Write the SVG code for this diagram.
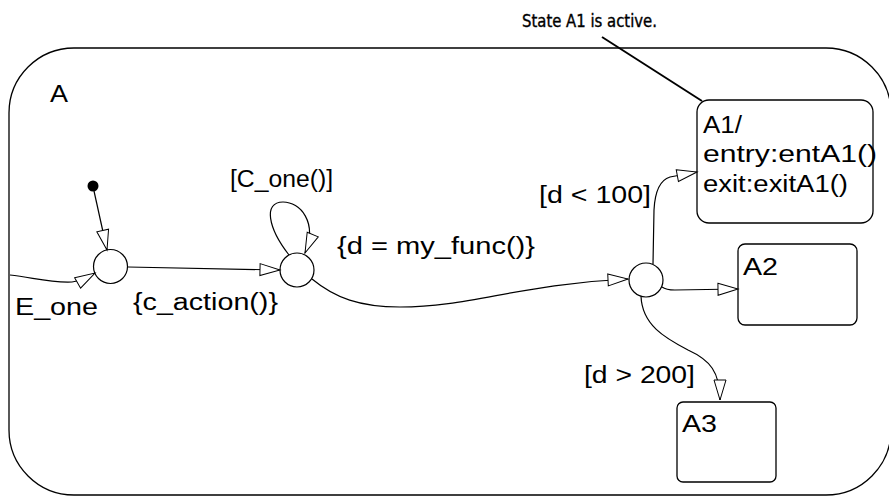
<svg xmlns="http://www.w3.org/2000/svg" width="889" height="497" viewBox="0 0 889 497">
<style>
  .st { fill: #fff; stroke: #000; stroke-width: 1.3; }
  .jn { fill: #fff; stroke: #000; stroke-width: 1.2; }
  .lbl { font-family: "Liberation Sans", Arial, Helvetica, sans-serif; font-size: 23px; fill: #000; }
  .note { font-family: "DejaVu Sans Condensed", "Liberation Sans Narrow", "Liberation Sans", sans-serif; font-size: 17px; fill: #000; stroke: #000; stroke-width: 0.35; }
  .tr { fill: none; stroke: #000; stroke-width: 1.2; marker-end: url(#arr); }
</style>
<defs>
  <marker id="arr" markerUnits="userSpaceOnUse" markerWidth="24" markerHeight="16" viewBox="0 0 24 16" refX="22" refY="8" orient="auto">
    <path d="M2,2 L22,8 L2,14 z" fill="#fff" stroke="#000" stroke-width="1"/>
  </marker>
</defs>
<rect width="889" height="497" fill="#fff"/>

<g id="A">
  <rect class="st" x="9" y="48" width="882" height="447" rx="65" ry="65" fill="none"/>
  <text class="lbl" x="50" y="102" textLength="18" lengthAdjust="spacingAndGlyphs">A</text>
</g>

<g id="A1">
  <rect class="st" x="697" y="100" width="176" height="123" rx="12" ry="12"/>
  <text class="lbl" x="703" y="133" textLength="39" lengthAdjust="spacingAndGlyphs">A1/</text>
  <text class="lbl" x="703" y="162" textLength="174" lengthAdjust="spacingAndGlyphs">entry:entA1()</text>
  <text class="lbl" x="703" y="192" textLength="145" lengthAdjust="spacingAndGlyphs">exit:exitA1()</text>
</g>

<g id="A2">
  <rect class="st" x="738" y="244" width="119" height="81" rx="7" ry="7"/>
  <text class="lbl" x="743" y="275" textLength="35" lengthAdjust="spacingAndGlyphs">A2</text>
</g>

<g id="A3">
  <rect class="st" x="677" y="402" width="99" height="80" rx="6" ry="6"/>
  <text class="lbl" x="682" y="432" textLength="35" lengthAdjust="spacingAndGlyphs">A3</text>
</g>

<g id="default">
  <circle cx="93" cy="186" r="5.5" fill="#000"/>
</g>

<g id="J1"><circle class="jn" cx="110.5" cy="266.5" r="17"/></g>
<g id="J2"><circle class="jn" cx="297" cy="270" r="17"/></g>
<g id="J3"><circle class="jn" cx="646" cy="280" r="17"/></g>

<g id="note">
  <text class="note" x="522" y="27" textLength="135" lengthAdjust="spacingAndGlyphs">State A1 is active.</text>
  <line x1="602" y1="37" x2="702" y2="101" stroke="#000" stroke-width="2"/>
</g>

<g id="connectors">
  <path class="tr" d="M 10 275 C 35 278, 50 283, 72 282 C 80 281, 88 277, 95 273"/>
  <path class="tr" d="M 94 191 L 107 250"/>
  <path class="tr" d="M 128 267 L 280 270"/>
  <path class="tr" d="M 289 255 C 268 228, 263 202, 283 202 C 300 202, 318 222, 305 253"/>
  <path class="tr" d="M 312 279 C 335 298, 360 307, 400 307 C 470 307, 520 284, 628 279"/>
  <path class="tr" d="M 653 264 L 654 210 C 655 190, 660 180, 670 177 L 697 172"/>
  <path class="tr" d="M 662 287 C 666 290, 670 290, 675 290 L 738 289"/>
  <path class="tr" d="M 641 296 C 642 325, 665 338, 688 350 C 710 360, 720 372, 720 400"/>
</g>

<g id="labels">
  <text class="lbl" x="15" y="315" textLength="83" lengthAdjust="spacingAndGlyphs">E_one</text>
  <text class="lbl" x="133" y="310" textLength="145" lengthAdjust="spacingAndGlyphs">{c_action()}</text>
  <text class="lbl" x="230" y="187" textLength="103" lengthAdjust="spacingAndGlyphs">[C_one()]</text>
  <text class="lbl" x="337" y="254" textLength="198" lengthAdjust="spacingAndGlyphs">{d = my_func()}</text>
  <text class="lbl" x="539" y="203" textLength="112" lengthAdjust="spacingAndGlyphs">[d &lt; 100]</text>
  <text class="lbl" x="584" y="383" textLength="111" lengthAdjust="spacingAndGlyphs">[d &gt; 200]</text>
</g>
</svg>
